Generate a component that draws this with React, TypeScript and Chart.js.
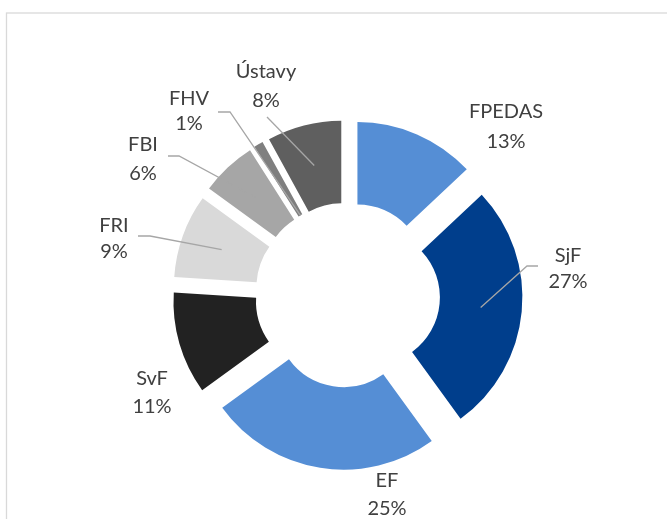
import React, { useEffect, useRef } from "react";
import { Chart, registerables } from "chart.js";

Chart.register(...registerables);

// ---- data ----
const categories = ["FPEDAS", "SjF", "EF", "SvF", "FRI", "FBI", "FHV", "Ústavy"];
const shares = [13, 27, 25, 11, 9, 6, 1, 8];
const sliceColors = ["#558ED5", "#003E8C", "#558ED5", "#222222", "#D9D9D9", "#A6A6A6", "#7F7F7F", "#5F5F5F"];

// ---- label layout (offsets from the doughnut centre, px) ----
// [dx, baseline1, baseline2]
const labelPos: number[][] = [
  [158.5, -177, -147],
  [220.5, -33, -7],
  [39.5, 192, 220],
  [-195.5, 90, 118],
  [-233.5, -63, -37],
  [-204.5, -144, -115],
  [-158.5, -190, -165],
  [-81.5, -217, -188.5],
];
// leader: anchor ("mid" | "inner" | null) and polyline points relative to centre
const leaderAnchor: (string | null)[] = [null, "mid", null, null, "mid", "mid", "inner", "mid"];
const leaderPts: number[][][] = [
  [],
  [[179.5, -29], [190.5, -29]],
  [],
  [],
  [[-197.5, -59], [-209.5, -59]],
  [[-168.5, -139], [-179.5, -139]],
  [[-117.5, -183], [-129.5, -183]],
  [[-80.5, -178]],
];

const EXPLODE = 25;
const FONT = '20px Lato, "Noto Sans", sans-serif';
const TEXT_COLOR = "#404040";
const LEADER_COLOR = "#A6A6A6";

const explodedDoughnut = {
  id: "explodedDoughnut",
  beforeDraw(chart: any) {
    const ctx = chart.ctx;
    ctx.save();
    ctx.strokeStyle = "#D9D9D9";
    ctx.lineWidth = 1.3;
    ctx.strokeRect(6.5, 13, 800, 800);
    ctx.restore();
  },
  beforeDatasetDraw(chart: any, args: any) {
    const ctx = chart.ctx;
    const meta = chart.getDatasetMeta(args.index);
    meta.data.forEach((arc: any) => {
      const mid = (arc.startAngle + arc.endAngle) / 2;
      ctx.save();
      ctx.translate(Math.cos(mid) * EXPLODE, Math.sin(mid) * EXPLODE);
      arc.draw(ctx);
      ctx.restore();
    });
    return false;
  },
  afterDatasetsDraw(chart: any) {
    const ctx = chart.ctx;
    const meta = chart.getDatasetMeta(0);
    ctx.save();
    meta.data.forEach((arc: any, i: number) => {
      const cx = arc.x;
      const cy = arc.y;
      const anchor = leaderAnchor[i];
      if (anchor) {
        const mid = (arc.startAngle + arc.endAngle) / 2;
        const r = anchor === "inner" ? arc.innerRadius : (arc.innerRadius + arc.outerRadius) / 2;
        const sx = cx + Math.cos(mid) * (EXPLODE + r);
        const sy = cy + Math.sin(mid) * (EXPLODE + r);
        ctx.beginPath();
        ctx.strokeStyle = LEADER_COLOR;
        ctx.lineWidth = 1.3;
        ctx.moveTo(sx, sy);
        leaderPts[i].forEach((p) => ctx.lineTo(cx + p[0], cy + p[1]));
        ctx.stroke();
      }
      const [dx, b1, b2] = labelPos[i];
      ctx.fillStyle = TEXT_COLOR;
      ctx.font = FONT;
      ctx.textAlign = "center";
      ctx.textBaseline = "alphabetic";
      ctx.fillText(categories[i], cx + dx, cy + b1);
      ctx.fillText(`${shares[i]}%`, cx + dx, cy + b2);
    });
    ctx.restore();
  },
};

export default function App() {
  const ref = useRef<HTMLCanvasElement | null>(null);
  useEffect(() => {
    if (!ref.current) return;
    const chart = new Chart(ref.current, {
      type: "doughnut",
      data: {
        labels: categories,
        datasets: [
          {
            data: shares,
            backgroundColor: sliceColors,
            borderWidth: 0,
            offset: 0,
          },
        ],
      },
      options: {
        animation: false,
        responsive: false,
        cutout: "45%",
        rotation: 0,
        layout: { padding: { left: 197.5, right: 169.5, top: 145, bottom: 74 } },
        plugins: {
          legend: { display: false },
          tooltip: { enabled: false },
        },
      },
      plugins: [explodedDoughnut],
    });
    return () => chart.destroy();
  }, []);
  return (
    <div style={{ position: "absolute", left: 0, top: 0, width: 667, height: 519, background: "#fff" }}>
      <canvas ref={ref} width={667} height={519} style={{ display: "block" }} />
    </div>
  );
}
